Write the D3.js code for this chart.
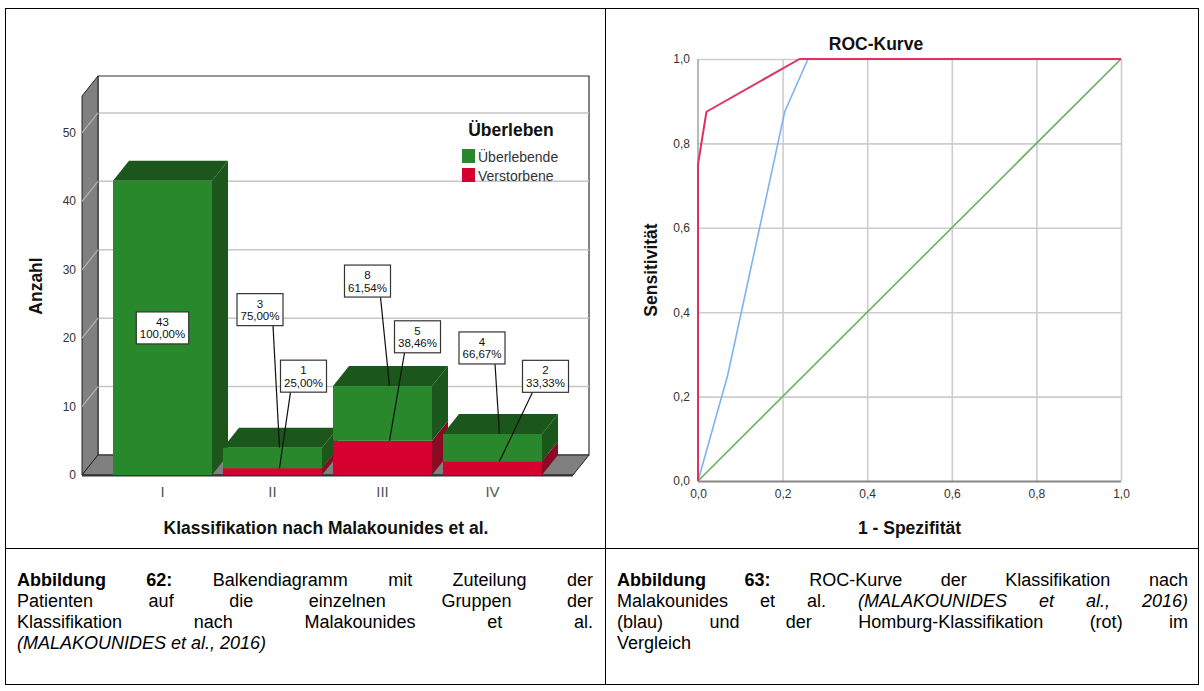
<!DOCTYPE html>
<html><head><meta charset="utf-8">
<script src="https://cdn.jsdelivr.net/npm/d3@7"></script>
<style>
html,body{margin:0;padding:0;background:#fff;}
svg{display:block;font-family:"Liberation Sans",Arial,Helvetica,sans-serif;}
</style></head><body>
<svg id="page" width="1204" height="691"></svg>
<script>
// ---- Balkendiagramm: Anzahl je Gruppe ----
const categories = ["I", "II", "III", "IV"];
const survivors = [43, 3, 8, 4];
const deceased = [0, 1, 5, 2];
const seriesNames = ["Überlebende", "Verstorbene"];
const countTicks = [0, 10, 20, 30, 40, 50];
const countMax = 55.4;

// ---- ROC-Kurve ----
const rocTicks = [0, 0.2, 0.4, 0.6, 0.8, 1.0];
const malakounidesFpr = [0, 0.07, 0.205, 0.26, 1];
const malakounidesTpr = [0, 0.25, 0.875, 1, 1];
const homburgFpr = [0, 0, 0.02, 0.24, 1];
const homburgTpr = [0, 0.75, 0.875, 1, 1];
const referenceFpr = [0, 1];
const referenceTpr = [0, 1];

// ---- Bildunterschriften ----
const captionLeft = [
  [{t: "Abbildung 62:", b: true}, {t: "Balkendiagramm mit Zuteilung der"}],
  [{t: "Patienten auf die einzelnen Gruppen der"}],
  [{t: "Klassifikation nach Malakounides et al."}],
  [{t: "(MALAKOUNIDES et al., 2016)", i: true}]
];
const captionRight = [
  [{t: "Abbildung 63:", b: true}, {t: "ROC-Kurve der Klassifikation nach"}],
  [{t: "Malakounides et al."}, {t: "(MALAKOUNIDES et al., 2016)", i: true}],
  [{t: "(blau) und der Homburg-Klassifikation (rot) im"}],
  [{t: "Vergleich"}]
];

const de = d3.formatLocale({decimal: ",", thousands: ".", grouping: [3], currency: ["", " €"]});
const fmt1 = de.format(".1f");
const fmtPct = v => de.format(".2f")(v) + "%";

const svg = d3.select("#page");

// ---------- table frame ----------
const frame = svg.append("g").attr("stroke", "#000").attr("stroke-width", 1).attr("fill", "none");
frame.append("rect").attr("x", 5.5).attr("y", 8.5).attr("width", 1193).attr("height", 676);
frame.append("line").attr("x1", 605.5).attr("x2", 605.5).attr("y1", 8.5).attr("y2", 684.5);
frame.append("line").attr("x1", 5.5).attr("x2", 1198.5).attr("y1", 548.5).attr("y2", 548.5);

// ---------- 3D bar chart ----------
const bar = svg.append("g");
const D = {dx: 16, dy: -20};
const y = d3.scaleLinear().domain([0, countMax]).range([475, 96]);
const x = d3.scaleBand().domain(categories).range([107.5, 547.5]).paddingInner(0.1).paddingOuter(0.05);
const floorL = 82, floorR = 573;
const poly = pts => pts.map(p => p.join(",")).join(" ");

const colors = {
  greenFront: "#29882b", greenDark: "#1b571b",
  redFront: "#d5002f", redDark: "#8c0a24",
  wall: "#808080"
};

// back wall
bar.append("polygon")
  .attr("points", poly([[floorL + D.dx, y(countMax) + D.dy], [floorR + D.dx, y(countMax) + D.dy], [floorR + D.dx, y(0) + D.dy], [floorL + D.dx, y(0) + D.dy]]))
  .attr("fill", "#fff").attr("stroke", "#333").attr("stroke-width", 1.2);

// gridlines on the back wall
bar.append("g").selectAll("line").data(countTicks.filter(v => v > 0)).join("line")
  .attr("x1", floorL + D.dx).attr("x2", floorR + D.dx)
  .attr("y1", d => y(d) + D.dy).attr("y2", d => y(d) + D.dy)
  .attr("stroke", "#c6c6c6").attr("stroke-width", 1.5);

// side wall
bar.append("polygon")
  .attr("points", poly([[floorL, y(countMax)], [floorL + D.dx, y(countMax) + D.dy], [floorL + D.dx, y(0) + D.dy], [floorL, y(0)]]))
  .attr("fill", colors.wall).attr("stroke", "#222").attr("stroke-width", 1);
bar.append("g").selectAll("line").data(countTicks.filter(v => v > 0)).join("line")
  .attr("x1", floorL).attr("x2", floorL + D.dx)
  .attr("y1", d => y(d)).attr("y2", d => y(d) + D.dy)
  .attr("stroke", "#b4b4b4").attr("stroke-width", 1.2);

// floor
bar.append("polygon")
  .attr("points", poly([[floorL, y(0)], [floorR, y(0)], [floorR + D.dx, y(0) + D.dy], [floorL + D.dx, y(0) + D.dy]]))
  .attr("fill", colors.wall).attr("stroke", "#222").attr("stroke-width", 1);
bar.append("line").attr("x1", floorL).attr("x2", floorR).attr("y1", y(0) + 0.5).attr("y2", y(0) + 0.5)
  .attr("stroke", "#333").attr("stroke-width", 2);

// y tick labels
bar.append("g").selectAll("text").data(countTicks).join("text")
  .attr("x", 76).attr("y", d => y(d) + 4)
  .attr("text-anchor", "end").attr("font-size", 12).attr("fill", "#333")
  .text(d => d);

// stacked 3D bars
const segments = [];
categories.forEach((c, i) => {
  const total = survivors[i] + deceased[i];
  const parts = [
    {series: 1, v0: 0, v1: deceased[i], n: deceased[i]},
    {series: 0, v0: deceased[i], v1: deceased[i] + survivors[i], n: survivors[i]}
  ];
  parts.forEach(p => { p.cat = c; p.idx = i; p.total = total; p.isTop = p.v1 === total; });
  segments.push(...parts.filter(p => p.n > 0));
});

const barsG = bar.append("g");
categories.forEach((c, i) => {
  const x0 = x(c), x1 = x0 + x.bandwidth();
  segments.filter(s => s.idx === i).forEach(s => {
    const front = s.series === 0 ? colors.greenFront : colors.redFront;
    const dark = s.series === 0 ? colors.greenDark : colors.redDark;
    const yt = y(s.v1), yb = y(s.v0);
    barsG.append("polygon")
      .attr("points", poly([[x1, yt], [x1 + D.dx, yt + D.dy], [x1 + D.dx, yb + D.dy], [x1, yb]]))
      .attr("fill", dark);
    if (s.isTop) {
      barsG.append("polygon")
        .attr("points", poly([[x0, yt], [x0 + D.dx, yt + D.dy], [x1 + D.dx, yt + D.dy], [x1, yt]]))
        .attr("fill", s.series === 0 ? colors.greenDark : colors.redDark);
    }
    barsG.append("rect").attr("x", x0).attr("y", yt).attr("width", x.bandwidth()).attr("height", yb - yt)
      .attr("fill", front);
  });
});

// category labels
bar.append("g").selectAll("text").data(categories).join("text")
  .attr("x", d => x(d) + x.bandwidth() / 2).attr("y", 497)
  .attr("text-anchor", "middle").attr("font-size", 15).attr("fill", "#555")
  .text(d => d);

// axis titles
bar.append("text").attr("x", 326).attr("y", 534).attr("text-anchor", "middle")
  .attr("font-size", 17.5).attr("font-weight", "bold").attr("fill", "#111")
  .text("Klassifikation nach Malakounides et al.");
bar.append("text").attr("transform", "translate(42,286) rotate(-90)").attr("text-anchor", "middle")
  .attr("font-size", 17.5).attr("font-weight", "bold").attr("fill", "#111")
  .text("Anzahl");

// legend
const lg = bar.append("g");
lg.append("text").attr("x", 511).attr("y", 136).attr("text-anchor", "middle")
  .attr("font-size", 17.5).attr("font-weight", "bold").attr("fill", "#111").text("Überleben");
seriesNames.forEach((n, k) => {
  lg.append("rect").attr("x", 462).attr("y", 149 + k * 19).attr("width", 13).attr("height", 14)
    .attr("fill", k === 0 ? colors.greenFront : colors.redFront);
  lg.append("text").attr("x", 478).attr("y", 162 + k * 19).attr("font-size", 14).attr("fill", "#333").text(n);
});

// value callouts (count and share of group)
const calloutOffset = {
  "II-0": [-19.5, -138], "II-1": [24, -92],
  "III-0": [-22, -105], "III-1": [28, -104],
  "IV-0": [-17.5, -86], "IV-1": [46, -85]
};
const cg = bar.append("g");
segments.forEach(s => {
  const cx = x(s.cat) + x.bandwidth() / 2;
  const key = s.cat + "-" + s.series;
  let bx, by, tip = null;
  if (calloutOffset[key]) {
    tip = [cx + 7, y(s.v1)];
    bx = tip[0] + calloutOffset[key][0];
    by = tip[1] + calloutOffset[key][1];
  } else {
    bx = cx; by = y((s.v0 + s.v1) / 2);
  }
  const g = cg.append("g");
  const t1 = g.append("text").attr("text-anchor", "middle").attr("font-size", 11.5).attr("fill", "#111").text(s.n);
  const t2 = g.append("text").attr("text-anchor", "middle").attr("font-size", 11.5).attr("fill", "#111").text(fmtPct(s.n / s.total * 100));
  const w = Math.max(t1.node().getComputedTextLength(), t2.node().getComputedTextLength()) + 7;
  const h = 32;
  const left = bx - w / 2, top = by - h / 2;
  if (tip) {
    const sx = Math.min(Math.max(tip[0], left + 10), left + w - 10);
    g.insert("line", "text").attr("x1", sx).attr("y1", top + h).attr("x2", tip[0]).attr("y2", tip[1])
      .attr("stroke", "#111").attr("stroke-width", 1.2);
  }
  g.insert("rect", "text").attr("x", left).attr("y", top).attr("width", w).attr("height", h)
    .attr("fill", "#fff").attr("stroke", "#333").attr("stroke-width", 1.2);
  t1.attr("x", bx).attr("y", top + 14);
  t2.attr("x", bx).attr("y", top + 26.5);
});

// ---------- ROC chart ----------
const roc = svg.append("g");
const xr = d3.scaleLinear().domain([0, 1]).range([698, 1121]);
const yr = d3.scaleLinear().domain([0, 1]).range([481, 59]);

roc.append("g").attr("transform", "translate(0,481)")
  .call(d3.axisBottom(xr).tickValues(rocTicks.filter(v => v > 0)).tickSize(-(481 - 59)).tickFormat(""))
  .call(g => g.select(".domain").remove())
  .call(g => g.selectAll("line").attr("stroke", "#cdcdcd").attr("stroke-width", 1.6));
roc.append("g").attr("transform", "translate(698,0)")
  .call(d3.axisLeft(yr).tickValues(rocTicks.filter(v => v > 0)).tickSize(-(1121 - 698)).tickFormat(""))
  .call(g => g.select(".domain").remove())
  .call(g => g.selectAll("line").attr("stroke", "#cdcdcd").attr("stroke-width", 1.6));
roc.append("line").attr("x1", xr(0)).attr("x2", xr(0)).attr("y1", yr(1)).attr("y2", yr(0))
  .attr("stroke", "#a8a8a8").attr("stroke-width", 1.6);
roc.append("line").attr("x1", xr(0)).attr("x2", xr(1)).attr("y1", yr(0) + 0.5).attr("y2", yr(0) + 0.5)
  .attr("stroke", "#858585").attr("stroke-width", 2);

// tick labels
roc.append("g").attr("transform", "translate(690,0)")
  .call(d3.axisLeft(yr).tickValues(rocTicks).tickSize(0).tickPadding(0).tickFormat(fmt1))
  .call(g => g.select(".domain").remove())
  .call(g => g.selectAll("text").attr("font-size", 12).attr("fill", "#333").attr("font-family", null));
roc.append("g").attr("transform", "translate(0,489)")
  .call(d3.axisBottom(xr).tickValues(rocTicks).tickSize(0).tickPadding(0).tickFormat(fmt1))
  .call(g => g.select(".domain").remove())
  .call(g => g.selectAll("text").attr("font-size", 12).attr("fill", "#333").attr("font-family", null));

const rocLine = d3.line().x(d => xr(d[0])).y(d => yr(d[1]));
const zip = (a, b) => a.map((v, k) => [v, b[k]]);
roc.append("path").attr("d", rocLine(zip(referenceFpr, referenceTpr)))
  .attr("fill", "none").attr("stroke", "#6aaf64").attr("stroke-width", 1.6);
roc.append("path").attr("d", rocLine(zip(malakounidesFpr, malakounidesTpr)))
  .attr("fill", "none").attr("stroke", "#7fb2ef").attr("stroke-width", 1.6);
roc.append("path").attr("d", rocLine(zip(homburgFpr, homburgTpr)))
  .attr("fill", "none").attr("stroke", "#dc3462").attr("stroke-width", 2)
  .attr("stroke-linejoin", "round");

roc.append("text").attr("x", 876).attr("y", 50).attr("text-anchor", "middle")
  .attr("font-size", 17.5).attr("font-weight", "bold").attr("fill", "#111").text("ROC-Kurve");
roc.append("text").attr("x", 909.5).attr("y", 534).attr("text-anchor", "middle")
  .attr("font-size", 17.5).attr("font-weight", "bold").attr("fill", "#111").text("1 - Spezifität");
roc.append("text").attr("transform", "translate(657,270) rotate(-90)").attr("text-anchor", "middle")
  .attr("font-size", 17.5).attr("font-weight", "bold").attr("fill", "#111").text("Sensitivität");

// ---------- captions (justified) ----------
function caption(lines, left, right, baseline0) {
  const fs = 18;
  const g = svg.append("g").attr("font-size", fs).attr("fill", "#000");
  const lh = 21;
  lines.forEach((runs, li) => {
    const words = [];
    runs.forEach(r => r.t.split(" ").forEach(w => words.push({w, b: r.b, i: r.i})));
    const nodes = words.map(o => g.append("text")
      .attr("y", baseline0 + li * lh)
      .attr("font-weight", o.b ? "bold" : null)
      .attr("font-style", o.i ? "italic" : null)
      .text(o.w));
    const widths = nodes.map(n => n.node().getComputedTextLength());
    const sum = d3.sum(widths);
    const last = li === lines.length - 1;
    const gap = (last || words.length < 2) ? fs * 0.278 : (right - left - sum) / (words.length - 1);
    let cx = left;
    nodes.forEach((n, k) => { n.attr("x", cx); cx += widths[k] + gap; });
  });
}
caption(captionLeft, 17, 593, 586);
caption(captionRight, 617, 1188, 586);
</script>
</body></html>
